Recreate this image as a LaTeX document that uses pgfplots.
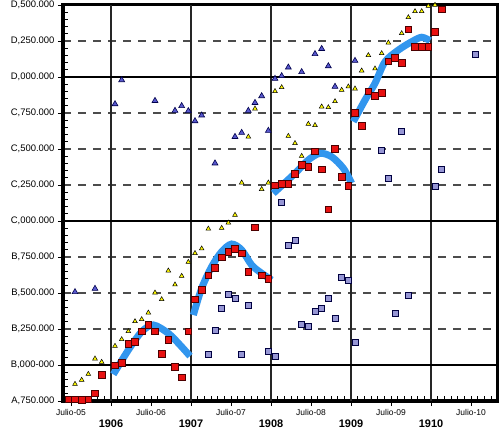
\documentclass[border=0pt]{standalone}
\usepackage{pgfplots}
\pgfplotsset{compat=1.18}
\usepackage{fontspec}
\setmainfont{Liberation Sans}
\definecolor{cred}{RGB}{232,16,16}
\definecolor{cyel}{RGB}{255,250,0}
\definecolor{cblue}{RGB}{88,88,205}
\definecolor{cpurp}{RGB}{150,150,212}
\definecolor{ccurve}{RGB}{50,150,238}
\begin{document}
\begin{tikzpicture}
% overlay axis carrying the small inward monthly / 50-step ticks (drawn first, under the data)
\begin{axis}[
  scale only axis, width=434bp, height=396bp,
  xmin=-7.2, xmax=57.9, ymin=1750, ymax=4500,
  axis line style={line width=3bp},
  xtick pos=bottom, ytick pos=left,
  tick align=inside,
  major tick length=5bp,
  major tick style={black, line width=0.9bp},
  xtick={-7,-6,...,57}, xticklabels={},
  ytick={1750,1800,...,4500}, yticklabels={},
]
\end{axis}
\begin{axis}[
  scale only axis, width=434bp, height=396bp,
  xmin=-7.2, xmax=57.9, ymin=1750, ymax=4500,
  axis line style={line width=3bp},
  xtick pos=bottom, ytick pos=left,
  tick align=outside,
  major tick length=5bp,
  tick style={black, line width=0.8bp},
  xtick={-6,6,18,30,42,54},
  xticklabels={Julio-05,Julio-06,Julio-07,Julio-08,Julio-09,Julio-10},
  ytick={1750,2000,2250,2500,2750,3000,3250,3500,3750,4000,4250,4500},
  yticklabels={{A,750.000},{B,000-000},{B,250.000},{B,500.000},{B,750.000},{C,000.000},{C,250.000},{C,500.000},{C,750.000},{D,000.000},{D,250.000},{D,500.000}},
  ymajorgrids,
  major grid style={dash pattern=on 8bp off 7bp, black!70, line width=1.4bp},
  xticklabel style={font=\fontsize{8.5}{10}\selectfont},
  yticklabel style={font=\fontsize{9.5}{11}\selectfont},
  extra y ticks={2000,3000,4000},
  extra y tick labels={},
  extra y tick style={ymajorgrids=true, major grid style={solid, black, line width=2bp}, major tick length=0pt},
  extra x ticks={0,12,24,36,48},
  extra x tick labels={1906,1907,1908,1909,1910},
  extra x tick style={xmajorgrids=true, major grid style={solid, black!85, line width=1.2bp},
     xticklabel style={font=\bfseries\fontsize{11}{13}\selectfont, yshift=-10bp}},
]
% blue curves
\addplot[ccurve, line width=7bp, smooth] coordinates {(0.35,1935) (2.6,2104) (4.6,2231) (6.35,2278) (8.6,2220) (10.35,2139) (11.85,2062)};
\addplot[ccurve, line width=7bp, smooth] coordinates {(12.35,2347) (13.6,2533) (15.1,2683) (16.6,2787) (18.1,2840) (19.6,2799) (21.1,2694) (22.6,2637) (24.1,2590)};
\addplot[ccurve, line width=7bp, smooth] coordinates {(24.35,3192) (27.6,3331) (29.6,3424) (31.35,3470) (33.1,3446) (34.85,3366) (36.1,3262)};
\addplot[ccurve, line width=7bp, smooth] coordinates {(36.35,3690) (38.1,3840) (39.6,3956) (41.1,4106) (43.1,4187) (45.1,4245) (46.6,4276) (47.85,4252)};
% purple squares
\addplot[only marks, mark=square*, mark size=3bp, mark options={fill=cpurp, draw=black!75!blue, line width=0.6bp}] coordinates {
(14.6,2076) (15.6,2238) (16.6,2396) (17.6,2493) (18.6,2460) (19.6,2076) (20.6,2414)
(23.6,2095) (24.6,2058) (25.6,3132) (26.6,2831) (27.6,2868) (28.6,2285) (29.6,2266)
(30.6,2373) (31.6,2396) (32.6,2465) (33.6,2326) (34.6,2609) (35.6,2585) (36.6,2160)
(40.6,3493) (41.6,3299) (42.6,2359) (43.6,3623) (44.6,2484) (48.6,3243) (49.6,3359) (54.6,4160)};
% blue triangles
\addplot[only marks, mark=triangle*, mark size=3.4bp, mark options={fill=cblue, draw=black!70!blue, line width=0.6bp}] coordinates {
(-5.4,2507) (-2.4,2530) (0.6,3812) (1.6,3979) (6.6,3835) (9.6,3766) (10.6,3799) (11.6,3764)
(12.6,3694) (13.6,3734) (15.6,3401) (18.6,3585) (19.6,3613) (20.6,3766) (21.6,3821) (22.6,3868)
(23.6,3627) (24.6,3988) (25.6,4007) (26.6,4067) (28.6,4035) (30.6,4160) (31.6,4196) (32.6,4076)
(33.6,3933) (36.6,4113)};
% yellow triangles
\addplot[only marks, mark=triangle*, mark size=2.7bp, mark options={fill=cyel, draw=black, line width=0.5bp}] coordinates {
(-5.4,1868) (-4.4,1896) (-3.4,1937) (-2.4,2044) (-1.4,2021) (0.6,2132) (1.6,2178) (2.6,2234)
(3.6,2303) (4.6,2317) (5.6,2363) (6.6,2502) (7.6,2456) (8.6,2655) (9.6,2558) (10.6,2618)
(11.6,2715) (12.6,2776) (13.6,2808) (14.6,2946) (16.6,2951) (17.6,2988) (18.6,3042) (19.6,3266)
(20.6,3585) (21.6,3780) (22.6,3221) (23.6,3266) (24.6,3901) (25.6,3928) (26.6,3590) (27.6,3540)
(28.6,3451) (29.6,3674) (30.6,3665) (31.6,3794) (32.6,3789) (33.6,3831) (34.6,3910) (35.6,3933)
(36.6,3919) (37.6,4044) (38.6,4151) (39.6,4058) (40.6,4164) (41.6,4238) (43.6,4303) (44.6,4414)
(45.6,4456) (46.6,4456) (47.6,4493) (48.6,4500)};
% red squares
\addplot[only marks, mark=square*, mark size=3.3bp, mark options={fill=cred, draw=black!70!red, line width=0.6bp}] coordinates {
(-6.4,1762) (-5.4,1762) (-4.4,1757) (-3.4,1762) (-2.4,1803) (-1.4,1933) (0.6,1998) (1.6,2016)
(2.6,2146) (3.6,2160) (4.6,2234) (5.6,2280) (6.6,2234) (7.6,2076) (8.6,2174) (9.6,1988)
(10.6,1915) (11.6,2234) (12.6,2456) (13.6,2521) (14.6,2623) (15.6,2674) (16.6,2748) (17.6,2785)
(18.6,2808) (19.6,2776) (20.6,2646) (21.6,2956) (22.6,2623) (23.6,2599) (24.6,3248) (25.6,3257)
(26.6,3257) (27.6,3326) (28.6,3391) (29.6,3377) (30.6,3484) (31.6,3359) (32.6,3081) (33.6,3502)
(34.6,3308) (35.6,3243) (36.6,3752) (37.6,3660) (38.6,3901) (39.6,3868) (40.6,3891) (41.6,4109)
(42.6,4132) (43.6,4099) (44.6,4331) (45.6,4210) (46.6,4210) (47.6,4210) (48.6,4312) (49.6,4470)};
\end{axis}
\pgfresetboundingbox
\path[use as bounding box] ([xshift=-63bp,yshift=-30bp]current axis.south west) rectangle ([xshift=3bp,yshift=5bp]current axis.north east);
\end{tikzpicture}
\end{document}
